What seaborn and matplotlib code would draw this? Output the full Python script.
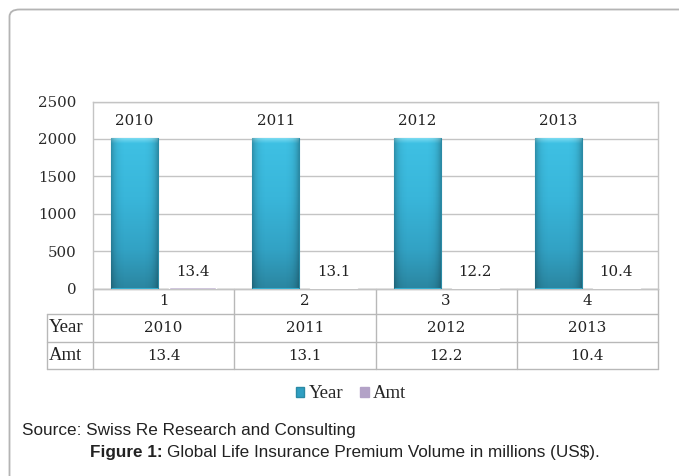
import numpy as np
import pandas as pd
import matplotlib
matplotlib.use("Agg")
import matplotlib.pyplot as plt
import matplotlib.transforms as mtransforms
from matplotlib.patches import FancyBboxPatch, Patch
from matplotlib.colors import LinearSegmentedColormap
import seaborn as sns

# ---- data ----
categories = ["1", "2", "3", "4"]
years = [2010, 2011, 2012, 2013]
amounts = [13.4, 13.1, 12.2, 10.4]
series_names = ["Year", "Amt"]
y_ticks = [0, 500, 1000, 1500, 2000, 2500]

df = pd.DataFrame({
    "cat": categories * 2,
    "series": ["Year"] * len(categories) + ["Amt"] * len(categories),
    "value": years + amounts,
})

sns.set_style("white")
plt.rcParams["font.family"] = ["DejaVu Serif"]

W, H = 679, 476
fig = plt.figure(figsize=(W / 100, H / 100), dpi=100)

# outer frame with rounded corner
frame = FancyBboxPatch((9.5 / W, -0.2), 1.2, (H - 9.5) / H + 0.2,
                       boxstyle="round,pad=0,rounding_size=0.015",
                       transform=fig.transFigure, fill=False,
                       edgecolor="#b4b4b4", linewidth=1.3, zorder=0)
fig.patches.append(frame)

ax_left, ax_right, ax_top, ax_bot = 93, 658, 101.5, 288.5
ax = fig.add_axes([ax_left / W, (H - ax_bot) / H,
                   (ax_right - ax_left) / W, (ax_bot - ax_top) / H])

year_col = "#36b2d4"
amt_col = "#b3a2c7"
sns.barplot(data=df, x="cat", y="value", hue="series", hue_order=series_names,
            palette={"Year": year_col, "Amt": amt_col}, width=0.82, gap=0.19,
            ax=ax, legend=False, saturation=1, zorder=3)

num_size = 10.8
ax.set_ylim(0, 2500)
ax.set_yticks(y_ticks)
ax.set_yticklabels([str(t) for t in y_ticks], fontsize=num_size, color="#2a2a2a")
ax.tick_params(axis="y", length=0, pad=12)
ax.tick_params(axis="x", length=0, labelbottom=False)
ax.set_xlabel("")
ax.set_ylabel("")
ax.yaxis.grid(True, color="#c4c4c4", linewidth=1.0)
ax.set_axisbelow(True)
for s in ax.spines.values():
    s.set_color("#c4c4c4")
    s.set_linewidth(1.0)

# gradient fill on Year bars
cmap = LinearSegmentedColormap.from_list(
    "bar", [(0.0, "#2b86a1"), (0.25, "#32a2c4"), (0.6, "#39b6da"),
            (0.96, "#3ec0e3"), (1.0, "#86e0f4")])
grad = np.linspace(0, 1, 256).reshape(-1, 1)
year_container = ax.containers[0]
amt_container = ax.containers[1]
for bar in year_container:
    x0, w, h = bar.get_x(), bar.get_width(), bar.get_height()
    bar.set_edgecolor("#2a8aa5")
    bar.set_linewidth(0.8)
    im = ax.imshow(grad, extent=[x0, x0 + w, 0, h], origin="lower",
                   aspect="auto", cmap=cmap, zorder=3.5, vmin=0, vmax=1)
    im.set_clip_path(bar)
    hshade = np.abs(np.linspace(-1, 1, 64)).reshape(1, -1) ** 5
    im2 = ax.imshow(np.dstack([np.zeros_like(hshade)] * 3 + [hshade * 0.25]),
                    extent=[x0, x0 + w, 0, h], aspect="auto", zorder=3.6)
    im2.set_clip_path(bar)
ax.set_xlim(-0.5, len(categories) - 0.5)
ax.set_ylim(0, 2500)

# value labels
for bar, v in zip(year_container, years):
    ax.annotate(str(v), xy=(bar.get_x() + bar.get_width() / 2, bar.get_height()),
                xytext=(0, 12.5), textcoords="offset points", ha="center",
                va="center", fontsize=num_size, color="#222222", zorder=5)
for bar, v in zip(amt_container, amounts):
    ax.annotate(str(v), xy=(bar.get_x() + bar.get_width() / 2, bar.get_height()),
                xytext=(0, 11), textcoords="offset points", ha="center",
                va="center", fontsize=num_size, color="#222222", zorder=5)

# data table under the axis
px_h = ax_bot - ax_top
def ay(py):
    return -(py - ax_bot) / px_h

rows_y = [ax_bot, 314, 342, 369]
hdr_left = (47 - ax_left) / (ax_right - ax_left)
tcol = "#b8b8b8"
trans = mtransforms.blended_transform_factory(ax.transData, ax.transAxes)
for i, py in enumerate(rows_y):
    x_start = 0 if i == 0 else hdr_left
    ax.plot([x_start, 1], [ay(py), ay(py)], transform=ax.transAxes,
            color=tcol, lw=1.0, clip_on=False)
ax.plot([0, 0], [ay(rows_y[0]), ay(rows_y[-1])], transform=ax.transAxes,
        color=tcol, lw=1.0, clip_on=False)
ax.plot([1, 1], [ay(rows_y[0]), ay(rows_y[-1])], transform=ax.transAxes,
        color=tcol, lw=1.0, clip_on=False)
ax.plot([hdr_left, hdr_left], [ay(rows_y[1]), ay(rows_y[-1])],
        transform=ax.transAxes, color=tcol, lw=1.0, clip_on=False)
for k in range(1, len(categories)):
    xk = k / len(categories)
    ax.plot([xk, xk], [ay(rows_y[0]), ay(rows_y[-1])], transform=ax.transAxes,
            color=tcol, lw=1.0, clip_on=False)

row_texts = [categories, [str(v) for v in years], [str(v) for v in amounts]]
row_headers = ["", "Year", "Amt"]
for r in range(3):
    yc = ay((rows_y[r] + rows_y[r + 1]) / 2)
    for c, t in enumerate(row_texts[r]):
        ax.text(c, yc, t, transform=trans, ha="center", va="center",
                fontsize=num_size, color="#222222", clip_on=False)
    if row_headers[r]:
        ax.text(hdr_left + 0.004, yc, row_headers[r], transform=ax.transAxes,
                ha="left", va="center", fontsize=13.5, color="#222222",
                family="Liberation Serif", clip_on=False)

# legend
handles = [Patch(facecolor="#2f9fc2", edgecolor="#2a8aa5", label="Year"),
           Patch(facecolor=amt_col, edgecolor=amt_col, label="Amt")]
fig.legend(handles=handles, loc="center", bbox_to_anchor=(351 / W, 1 - 394 / H),
           ncol=2, frameon=False, handlelength=0.45, handleheight=0.45,
           handletextpad=0.25, columnspacing=0.9,
           prop={"family": "Liberation Serif", "size": 13.5})

# source and caption
fig.text(22 / W, 1 - 430 / H, "Source: Swiss Re Research and Consulting",
         ha="left", va="center", fontsize=12.3, family="Liberation Sans",
         color="#222222")
t1 = fig.text(90 / W, 1 - 453 / H, "Figure 1:", ha="left", va="center",
              fontsize=12.3, family="Liberation Sans", weight="bold",
              color="#222222")
fig.canvas.draw()
bb = t1.get_window_extent()
fig.text((bb.x1 + 4) / W, 1 - 453 / H,
         "Global Life Insurance Premium Volume in millions (US$).",
         ha="left", va="center", fontsize=12.3, family="Liberation Sans",
         color="#222222")

fig.savefig("out.png", dpi=100)
